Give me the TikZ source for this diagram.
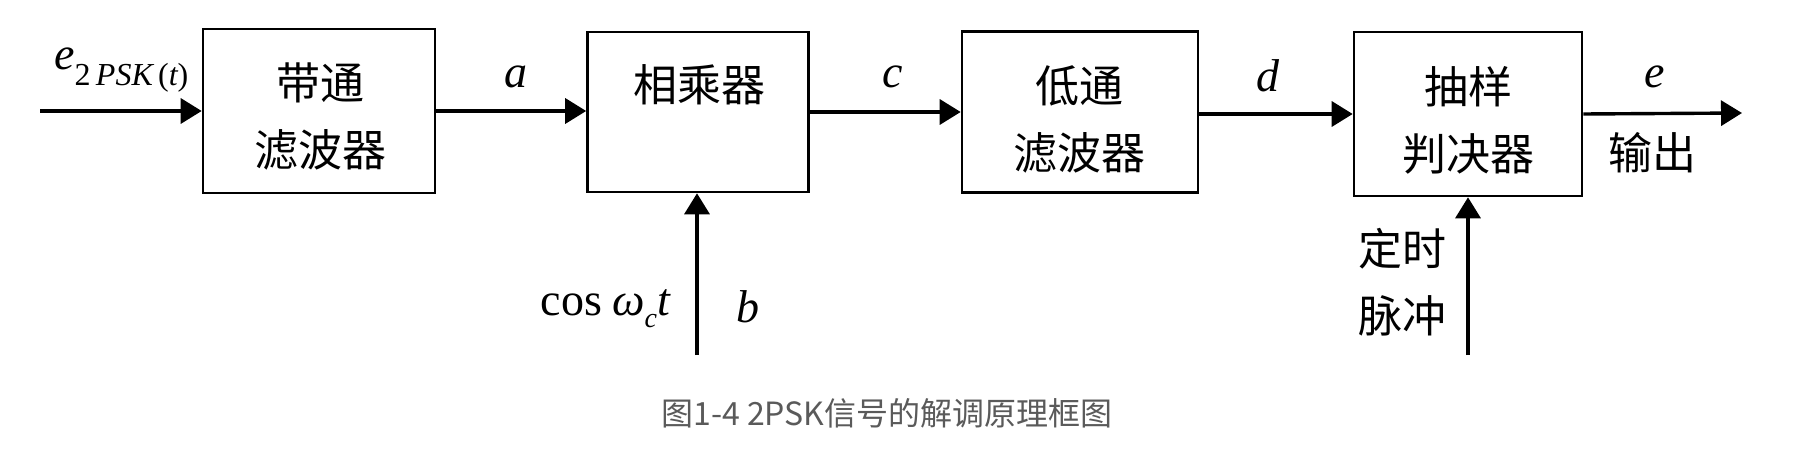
\documentclass[tikz,border=0pt]{standalone}
\usepackage{fontspec}
\usetikzlibrary{arrows.meta}
\newfontfamily\cjk{Noto Sans CJK SC}
\newfontfamily\tnr{Liberation Serif}
\definecolor{capgray}{HTML}{5A5A5A}
\begin{document}
\begin{tikzpicture}[x=1pt,y=-1pt,
  blk/.style={draw, line width=2.6pt, inner sep=0pt},
  cjktxt/.style={inner sep=0pt, font=\cjk\fontsize{44}{67}\selectfont, align=center},
  sig/.style={line width=3.4pt, -{Triangle[length=21pt,width=25pt]}},
  lbl/.style={inner sep=0pt, font=\tnr\itshape\fontsize{46}{46}\selectfont},
  captext/.style={inner sep=0pt, font=\cjk\fontsize{32}{32}\selectfont, text=capgray}]
\useasboundingbox (0,0) rectangle (1806,468);
% blocks
\node[blk, minimum width=232pt, minimum height=164pt] (b1) at (319,111) {};
\node[blk, minimum width=221pt, minimum height=160pt] (b2) at (698,112) {};
\node[blk, minimum width=236pt, minimum height=161pt] (b3) at (1080,112) {};
\node[blk, minimum width=228pt, minimum height=164pt] (b4) at (1468,114) {};
% block texts
\node[cjktxt] (t1) at (320,116) {带通\\滤波器};
\node[cjktxt] (t2) at (699,85) {相乘器};
\node[cjktxt] (t3) at (1079,119) {低通\\滤波器};
\node[cjktxt] (t4) at (1468,120) {抽样\\判决器};
% free ends
\coordinate (in) at (40,111);
\coordinate (out) at (1742,113);
\coordinate (cin) at (697,355);
\coordinate (tin) at (1468,355);
% connectors
\draw[sig] (in) -- (b1.west);
\draw[sig] (b1.east) -- (b2.west |- b1.east);
\draw[sig] (b2.east |- b2.center) -- (b3.west |- b2.center);
\draw[sig] (b3.east |- b4.center) -- (b4.west);
\draw[sig] (b4.east) -- (out);
\draw[sig] (cin) -- (cin |- b2.south);
\draw[sig] (tin) -- (b4.south);
% labels
\node[lbl, anchor=base west] (le) at (54,70) {e\raisebox{-16pt}{\fontsize{32}{32}\selectfont\upshape 2\,\itshape PSK\,\upshape(\itshape t\upshape)}};
\node[lbl, anchor=base] (la) at (516,88) {a};
\node[lbl, anchor=base] (lc) at (893,88) {c};
\node[lbl, anchor=base] (ld) at (1268,92) {d};
\node[lbl, anchor=base] (lo) at (1655,88) {e};
\node[lbl, anchor=base] (lb) at (748,322) {b};
\node[lbl, anchor=base east] (lcos) at (670,315) {\upshape cos\hspace{10pt}\itshape ω\raisebox{-12pt}{\fontsize{28}{28}\selectfont c}t};
\node[cjktxt] (lout) at (1652,153) {输出};
\node[cjktxt] (lclk) at (1402,282) {定时\\脉冲};
\node[captext] (caption) at (887,413) {图1-4 2PSK信号的解调原理框图};
\end{tikzpicture}
\end{document}
